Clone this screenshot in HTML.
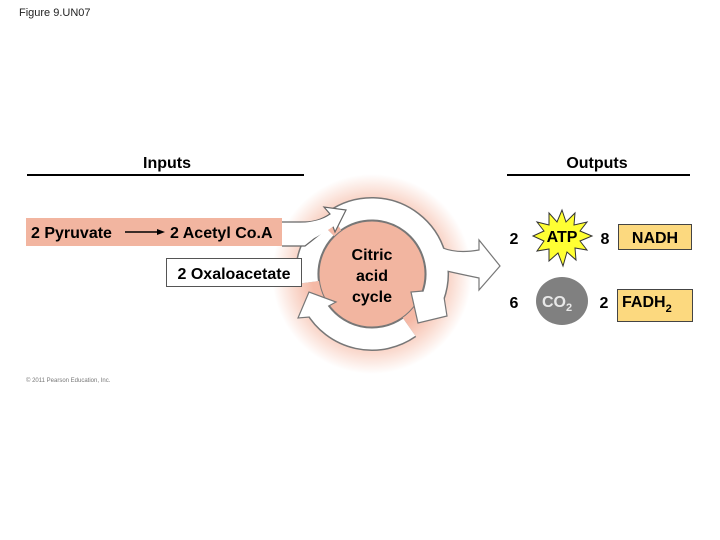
<!DOCTYPE html>
<html><head><meta charset="utf-8"><style>
html,body{margin:0;padding:0;background:#fff;}
body{width:720px;height:540px;overflow:hidden;position:relative;font-family:"Liberation Sans",sans-serif;}
</style></head><body>
<svg width="720" height="540" viewBox="0 0 720 540" xmlns="http://www.w3.org/2000/svg" style="position:absolute;left:0;top:0">
<defs>
<radialGradient id="g" cx="372" cy="274" r="100" gradientUnits="userSpaceOnUse">
<stop offset="0.6" stop-color="#f5b9a6"/>
<stop offset="0.8" stop-color="#fadbd0"/>
<stop offset="1" stop-color="#ffffff"/>
</radialGradient>
</defs>
<text x="19" y="16" font-size="11" fill="#222">Figure 9.UN07</text>
<text x="167" y="168" font-size="16" font-weight="bold" text-anchor="middle">Inputs</text>
<rect x="27" y="174" width="277" height="2" fill="#000"/>
<text x="597" y="168" font-size="16" font-weight="bold" text-anchor="middle">Outputs</text>
<rect x="507" y="174" width="183" height="2" fill="#000"/>

<circle cx="372" cy="274" r="100" fill="url(#g)"/>
<circle cx="372" cy="274" r="53" fill="#f2b5a0" stroke="#777" stroke-width="1"/>

<!-- gray outlines of ring arcs -->
<g fill="none" stroke="#777" stroke-width="24">
<path d="M334.7,220.8 A65,65 0 0 1 433.1,296.2"/>
<path d="M409.3,327.2 A65,65 0 0 1 315.7,306.5"/>
<path d="M307.5,282.5 A65,65 0 0 1 326,228"/>
</g>
<!-- right branch arrow -->
<path d="M428,238 Q445,256 479,250 L479,240 L500,266 L479,290 L479,278 Q450,272 434,268 Z" fill="#fff" stroke="#777" stroke-width="1.2"/>
<!-- arrowheads (outlined) -->
<polygon points="423,291 411,292 418,323 447,316 444,297" fill="#fff" stroke="#777" stroke-width="1.2"/>
<polygon points="298,318 309,292 336,302 325,308 322,316" fill="#fff" stroke="#777" stroke-width="1.2"/>
<!-- white ring -->
<g fill="none" stroke="#fff" stroke-width="21">
<path d="M334.7,220.8 A65,65 0 0 1 433.1,296.2"/>
<path d="M409.3,327.2 A65,65 0 0 1 315.7,306.5"/>
<path d="M307.5,282.5 A65,65 0 0 1 326,228"/>
</g>
<path d="M426,241 Q445,258 480,252 L480,276 Q450,271 432,266 Z" fill="#fff"/>
<polygon points="424,293 440,299 442,312 421,316" fill="#fff"/>
<polygon points="305,312 312,298 324,304 320,314" fill="#fff"/>

<!-- acetyl arrow -->
<rect x="26" y="218" width="256" height="28" fill="#f2b5a0"/>
<path d="M282,222 L305,222 Q318,222 330,214 L324,207 L346,210 L335,232 L332,224 Q318,236 305,246 L282,246" fill="#fff" stroke="#666" stroke-width="1.2"/>
<path d="M300,223 Q318,222 331,215 L334,226 Q318,237 300,245 Z" fill="#fff"/>
<text x="31" y="238" font-size="16" font-weight="bold">2 Pyruvate</text>
<line x1="125" y1="232" x2="160" y2="232" stroke="#000" stroke-width="1.5"/>
<polygon points="165,232 157,229 157,235" fill="#000"/>
<text x="170" y="238" font-size="16" font-weight="bold">2 Acetyl Co.A</text>

<text x="372" y="260" font-size="16" font-weight="bold" text-anchor="middle">Citric</text>
<text x="372" y="281" font-size="16" font-weight="bold" text-anchor="middle">acid</text>
<text x="372" y="302" font-size="16" font-weight="bold" text-anchor="middle">cycle</text>

<rect x="166.5" y="258.5" width="135" height="28" fill="#fff" stroke="#555" stroke-width="1"/>
<text x="234" y="279" font-size="16" font-weight="bold" text-anchor="middle">2 Oxaloacetate</text>

<text x="514" y="244" font-size="16" font-weight="bold" text-anchor="middle">2</text>
<polygon points="562,210 566,222 575,213 574,225 587,222 580,231 592,236 580,241 587,250 575,248 576,260 567,252 563,266 558,253 549,261 549,249 537,251 544,241 533,236 544,231 537,222 549,225 549,213 557,222" fill="#ffff33" stroke="#333" stroke-width="1"/>
<text x="562" y="242" font-size="16" font-weight="bold" text-anchor="middle">ATP</text>
<text x="605" y="244" font-size="16" font-weight="bold" text-anchor="middle">8</text>
<rect x="618.5" y="224.5" width="73" height="25" fill="#fcd97f" stroke="#444" stroke-width="1"/>
<text x="655" y="243" font-size="16" font-weight="bold" text-anchor="middle">NADH</text>

<text x="514" y="308" font-size="16" font-weight="bold" text-anchor="middle">6</text>
<ellipse cx="562" cy="301" rx="26" ry="24" fill="#808080"/>
<text x="557" y="307" font-size="16" font-weight="bold" fill="#e8e8e8" text-anchor="middle">CO<tspan font-size="11" dy="4">2</tspan></text>
<text x="604" y="308" font-size="16" font-weight="bold" text-anchor="middle">2</text>
<rect x="617.5" y="289.5" width="75" height="32" fill="#fcd97f" stroke="#444" stroke-width="1"/>
<text x="622" y="307" font-size="16" font-weight="bold">FADH<tspan font-size="11" dy="5">2</tspan></text>

<text x="26" y="382" font-size="6" fill="#777">© 2011 Pearson Education, Inc.</text>
</svg>
</body></html>
